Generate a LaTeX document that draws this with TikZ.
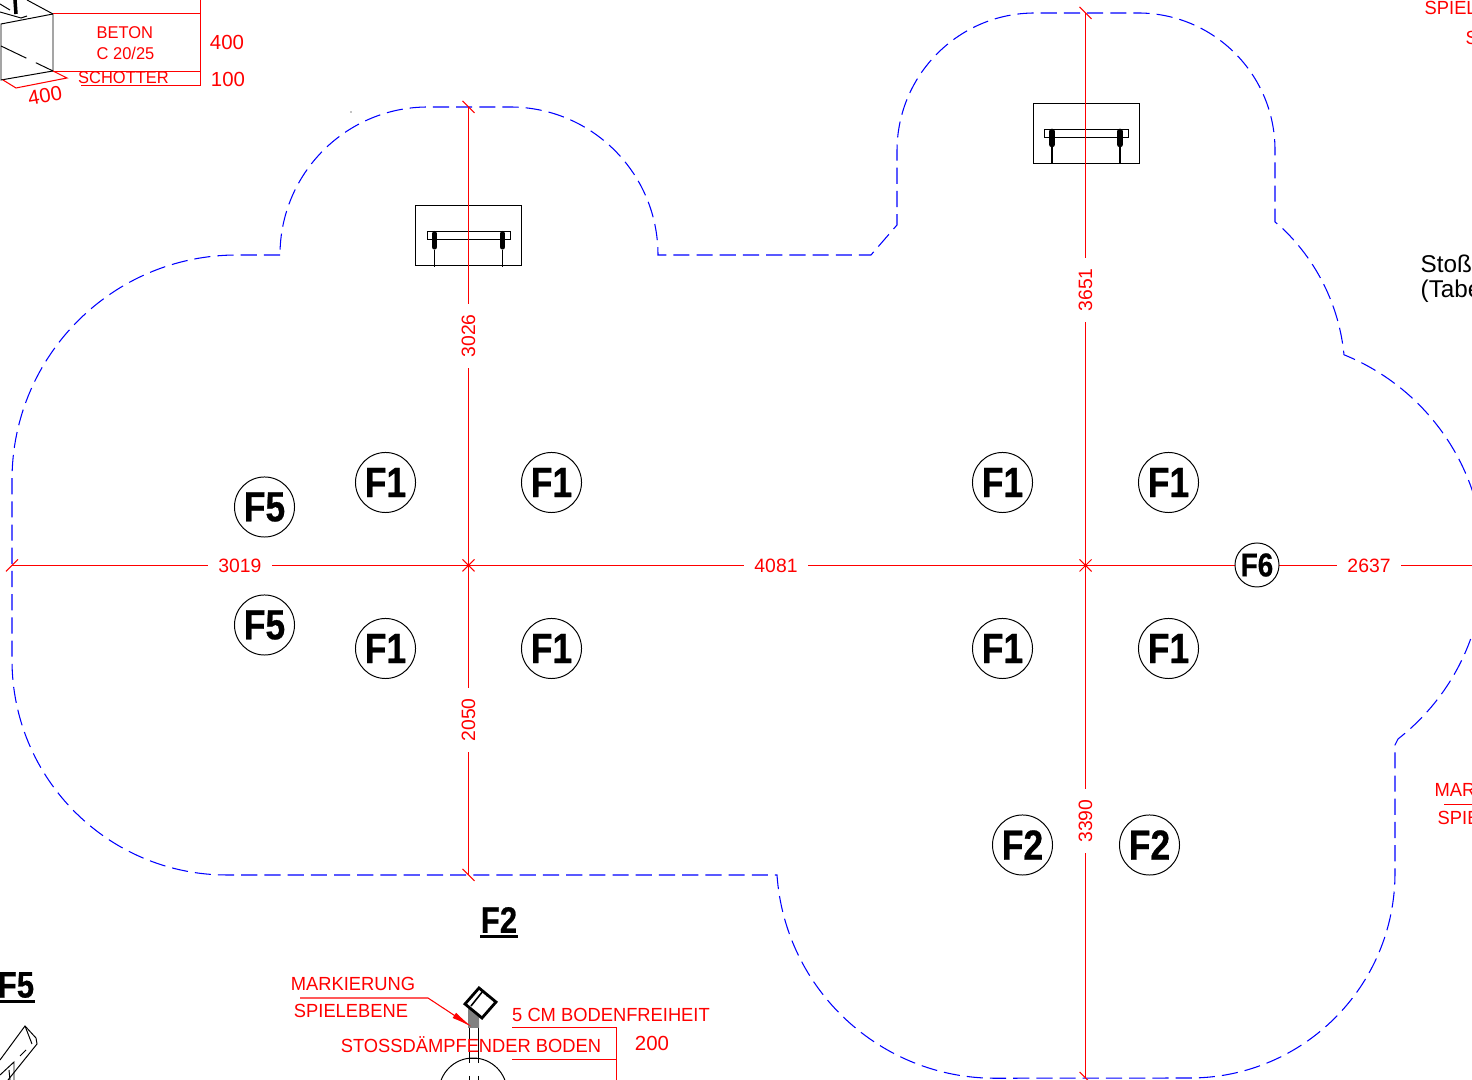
\documentclass[tikz,border=0pt]{standalone}
\usepackage{fontspec}
\setmainfont{Liberation Sans}
\newfontfamily\markfont[FakeStretch=0.84,BoldFeatures={FakeBold=0.6}]{Liberation Sans}
\newfontfamily\redfont[FakeStretch=0.965]{Liberation Sans}
\usetikzlibrary{arrows.meta,calc}
\tikzset{
  outline/.style={blue,line width=0.3pt,dash pattern=on 4.6pt off 2pt},
  redline/.style={red,line width=0.3pt},
  blackline/.style={black,line width=0.28pt},
  dimlabel/.style={red,inner xsep=2.8pt,inner ysep=0.9pt,font=\fontsize{5.5}{6}\selectfont},
  redtext/.style={red,inner sep=0pt,font=\redfont\fontsize{5.4}{6.4}\selectfont},
  blocktext/.style={red,inner sep=0pt,font=\redfont\fontsize{4.85}{6}\selectfont},
  numtext/.style={red,inner sep=0pt,font=\fontsize{5.8}{7}\selectfont},
  marksmall/.style={circle,draw,line width=0.28pt,fill=white,minimum size=0.44cm,inner sep=0pt,font=\markfont\fontsize{9.4}{10}\selectfont\bfseries},
  markbig/.style={circle,draw,line width=0.28pt,fill=white,minimum size=0.6cm,inner sep=0pt,font=\markfont\fontsize{12}{13}\selectfont\bfseries},
  headline/.style={inner sep=0pt,font=\markfont\fontsize{10.5}{11}\selectfont\bfseries}
}
\def\dimcross(#1)% Syntax: (named coordinate)
    { \draw[redline] ($(#1)+(-6,-6)$) -- ($(#1)+(6,6)$) ($(#1)+(-6,6)$) -- ($(#1)+(6,-6)$); }
\def\dimslash(#1)(#2)% Syntax: (named coordinate)(direction of the slash)
    { \draw[redline] ($(#1)+(#2)$) -- ($(#1)-(#2)$); }
\def\swingtop(#1,#2)% Syntax: (left edge,top edge)
    { \begin{scope}[shift={(#1,#2)}]
        \draw[blackline] (0,0) rectangle (106,60);
        \draw[blackline] (11.5,26) rectangle (95,34);
        \draw[line width=1.6pt,line cap=round] (19,28) -- (19,41) (87,28) -- (87,41);
        \draw[line width=0.42pt] (19,44) -- (19,61) (87,44) -- (87,61);
      \end{scope} }
\begin{document}
\begin{tikzpicture}[x=0.01cm,y=-0.01cm]
   \useasboundingbox (0,0) rectangle (1472,1080);
   \clip (0,0) rectangle (1472,1080);

   % play area outline
   \draw[outline] (280,255) -- (237,255) arc (270:180:225) -- (12,660) arc (180:90:215)
      -- (777,875) arc (176:90:218.5) -- (1190,1078) arc (90:0:205) -- (1395,745) -- (1398,739)
      arc (52:-68:224) arc (-5.6:-47:202) -- (1275,222) -- (1275,150) arc (0:-90:137)
      -- (1035,13) arc (-90:-180:138) -- (897,225) -- (871,255) -- (658,255)
      arc (0:-90:148) -- (428,107) arc (-90:-180:148);

   \swingtop(415.5,205.8)
   \swingtop(1033,103.5)

   % dimension lines
   \coordinate (westEnd) at (12,565.5);
   \coordinate (eastEnd) at (1472,565.5);
   \coordinate (crossA) at (468.5,565.5);
   \coordinate (crossB) at (1085.5,565.5);
   \coordinate (topA) at (468.5,107);
   \coordinate (botA) at (468.5,875);
   \coordinate (topB) at (1085.5,13);
   \coordinate (botB) at (1085.5,1078);

   \node[dimlabel] (dimWest) at (240,565.5) {3019};
   \node[dimlabel] (dimMid) at (776,565.5) {4081};
   \node[dimlabel] (dimEast) at (1369,565.5) {2637};
   \node[dimlabel,rotate=90] (dimTopA) at (468.5,336) {3026};
   \node[dimlabel,rotate=90] (dimBotA) at (468.5,720) {2050};
   \node[dimlabel,rotate=90] (dimTopB) at (1085.5,290) {3651};
   \node[dimlabel,rotate=90] (dimBotB) at (1085.5,821) {3390};

   \draw[redline] (westEnd) -- (dimWest) -- (crossA) -- (dimMid) -- (crossB) -- (dimEast) -- (eastEnd);
   \draw[redline] (topA) -- (dimTopA) -- (crossA) -- (dimBotA) -- (botA);
   \draw[redline] (topB) -- (dimTopB) -- (crossB) -- (dimBotB) -- (botB);

   \dimcross(crossA)
   \dimcross(crossB)
   \dimslash(westEnd)(6,-6)
   \dimslash(topA)(6,6)
   \dimslash(botA)(6,6)
   \dimslash(topB)(6,6)
   \dimslash(botB)(6,6)

   % foundation marks
   \node[markbig] (markA) at (385.5,482.5) {F1};
   \node[markbig] (markB) at (551.5,482.5) {F1};
   \node[markbig] (markC) at (385.5,648.5) {F1};
   \node[markbig] (markD) at (551.5,648.5) {F1};
   \node[markbig] (markE) at (1002.5,482.5) {F1};
   \node[markbig] (markF) at (1168.5,482.5) {F1};
   \node[markbig] (markG) at (1002.5,648.5) {F1};
   \node[markbig] (markH) at (1168.5,648.5) {F1};
   \node[markbig] (markI) at (264.5,507) {F5};
   \node[markbig] (markJ) at (264.5,625) {F5};
   \node[markbig] (markK) at (1022.5,845) {F2};
   \node[markbig] (markL) at (1149.5,845) {F2};
   \node[marksmall] (markM) at (1257,565) {F6};

   \fill (351,112) circle (0.7);

   % block detail, top left
   \draw[blackline] (53,14) -- (1,24) -- (1,80) -- (53,71) -- cycle;
   \draw[blackline] (53,14) -- (27,0) (0,12) -- (21,18) -- (27,16) (0,4) -- (10,10);
   \draw[line width=1pt] (15,0) -- (16,14);
   \draw[blackline,dash pattern=on 8pt off 3pt] (1,46) -- (53,71);
   \draw[redline] (53,13.5) -- (200.5,13.5) (200.5,0) -- (200.5,85.5) (53,71.5) -- (200.5,71.5) (81,85.5) -- (200.5,85.5);
   \draw[redline] (3,80) -- (16,88) -- (67,78) -- (53,71);
   \node[blocktext,anchor=west] (txtBeton) at (96,33) {BETON};
   \node[blocktext,anchor=west] (txtClass) at (96,53) {C 20/25};
   \node[blocktext] (txtGravel) at (123.5,78) {SCHOTTER};
   \node[numtext] (txtDepthA) at (227,42) {400};
   \node[numtext] (txtDepthB) at (228,79) {100};
   \node[numtext,rotate=10] (txtWidth) at (45,96) {400};

   % section titles
   \node[headline] (ttlTwo) at (499,920) {F2};
   \node[headline] (ttlFive) at (16,985) {F5};
   \draw[line width=1pt] ($(ttlTwo.south west)+(0,3)$) -- ($(ttlTwo.south east)+(0,3)$);
   \draw[line width=1pt] ($(ttlFive.south west)+(0,3)$) -- ($(ttlFive.south east)+(0,3)$);

   % post with sign
   \draw[blackline] (0,1060) -- (25,1026) -- (36,1038) -- (37,1044) -- (8,1080);
   \draw[blackline] (25,1026) -- (32,1044) (26,1050) -- (20,1056) (0,1075) -- (14,1062) -- (14,1080) (9,1070) -- (10,1080);

   \fill[gray] (468,1008) -- (476,1006) -- (479,1015) -- (479,1028) -- (468,1028) -- cycle;
   \draw[blackline] (469,1028) -- (469,1063) (478,1028) -- (478,1063) (469,1058) -- (478,1058);
   \draw[line width=0.8pt,fill=white] (479,988) -- (496,1002) -- (482,1018) -- (465,1004) -- cycle;
   \draw[line width=0.45pt] (483,991) -- (471,1006);
   \fill (487,996) circle (0.7);
   \draw[blackline] (473,1092) circle (34);
   \draw[blackline] (469,1076) -- (469,1080) (478,1076) -- (478,1080);

   \node[redtext] (txtMark) at (353,984) {MARKIERUNG};
   \node[redtext] (txtLevel) at (351,1011) {SPIELEBENE};
   \node[redtext] (txtSoft) at (471,1045) {STOSSDÄMPFENDER BODEN};
   \node[redtext] (txtClear) at (611,1015) {5 CM BODENFREIHEIT};
   \node[numtext] (txtHeight) at (652,1043) {200};
   \coordinate (markTip) at (472,1027);
   \draw[redline,-{Latex[length=6pt,width=1.8pt]}] (300,998) -- (428,998) -- (markTip);
   \draw[redline] (512,1027.5) -- (616.5,1027.5) -- (616.5,1080) (512,1059.5) -- (616.5,1059.5);

   % cut at the right border
   \node[redtext,anchor=west] (txtRightA) at (1424,8) {SPIEL};
   \node[redtext,anchor=west] (txtRightB) at (1465,38) {S};
   \node[inner sep=0pt,anchor=west,font=\fontsize{6.9}{8}\selectfont] (txtImpact) at (1420,264) {Stoße};
   \node[inner sep=0pt,anchor=west,font=\fontsize{6.9}{8}\selectfont] (txtTable) at (1420,291) {(Tabe};
   \node[redtext,anchor=west] (txtRightC) at (1434,790) {MAR};
   \node[redtext,anchor=west] (txtRightD) at (1437,818) {SPIE};
   \draw[redline] (1444,804.5) -- (1472,804.5);
\end{tikzpicture}
\end{document}
